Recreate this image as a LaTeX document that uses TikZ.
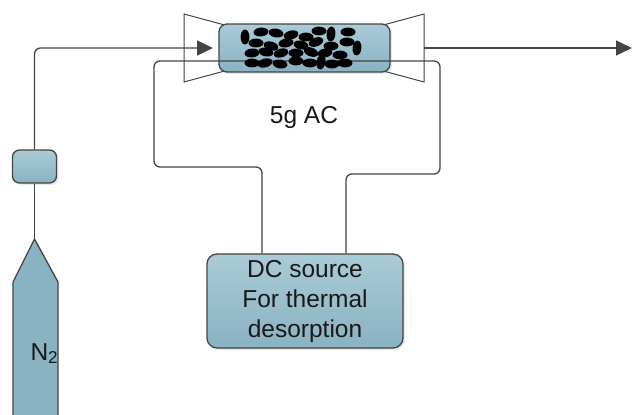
\documentclass[tikz,border=0pt]{standalone}
\usepackage{fontspec}
\setmainfont{Liberation Sans}
\usetikzlibrary{arrows.meta,shadows}

\definecolor{boxblue}{RGB}{137,178,194}
\definecolor{boxlight}{RGB}{170,203,215}
\definecolor{linegray}{RGB}{68,68,68}

\tikzset{
  pipe/.style={draw=linegray, line width=1.3pt},
  flow/.style={pipe, -{Triangle[length=16pt,width=15pt]}},
  unit/.style={draw=linegray, line width=1.3pt, top color=boxlight, bottom color=boxblue,
    rounded corners=#1, inner sep=0pt,
    drop shadow={opacity=0.18, shadow xshift=2pt, shadow yshift=-2pt}},
  unit/.default=8pt,
  cone/.style={draw=linegray, line width=1pt, fill=white},
  pellet/.style={fill=black},
  label/.style={font=\fontsize{24.5}{30}\selectfont, text=black!90},
}

\begin{document}
\begin{tikzpicture}[x=1pt, y=-1pt]
        \useasboundingbox (0,0) rectangle (632,415);

        % Gas cylinder
        \fill[boxblue, draw=linegray, line width=1.3pt]
            (13,420) -- (13,282) -- (34.5,239) -- (58,282) -- (58,420);
        \coordinate (n2top) at (34.5,239);
        \node[label, anchor=base west] (n2) at (27,360) {N\textsubscript{2}};

        % Valve
        \node[unit=7pt, minimum width=44pt, minimum height=33pt] (valve) at (34.5,166.5) {};

        % Reactor end cones
        \draw[cone] (184,14) -- (232,27) -- (232,69) -- (184,82) -- cycle;
        \draw[cone] (424,14) -- (376,27) -- (376,69) -- (424,82) -- cycle;

        % Reactor tube
        \node[unit=8pt, minimum width=171pt, minimum height=48pt] (tube) at (304.5,48) {};
        \node[label, anchor=base] (load) at (304,123) {5g AC};

        % DC source
        \node[unit=10pt, minimum width=196pt, minimum height=94pt, label, align=center]
            (dc) at (305,301) {DC source\\For thermal\\desorption};

        % Gas flow
        \coordinate (inlet) at (213,48);
        \coordinate (outlet) at (424,48);
        \coordinate (exit) at (632,48);
        \draw[pipe] (n2top) -- (valve.south);
        \draw[flow, rounded corners=6pt] (valve.north) |- (inlet);
        \draw[flow] (outlet) -- (exit);

        % Heating wires
        \draw[pipe, rounded corners=6pt] ([xshift=-43pt]dc.north) |- (154,167) |- (440,61)
            |- (346,174) -- ([xshift=41pt]dc.north);

        % Activated carbon pellets
        \foreach \x/\y/\a in {245/37/90, 261/32/5, 276/33/-10, 291/35/15, 306/37/0, 319/31/0,
                              331/34/85, 348/32/0, 256/43/0, 271/46/-15, 286/43/10, 301/45/-10,
                              316/42/20, 331/46/0, 347/42/0, 357/48/85, 252/53/5, 266/52/-10,
                              281/53/15, 296/53/0, 311/52/-20, 325/53/10, 340/55/0, 252/63/0,
                              265/63/15, 280/64/-10, 296/61/0, 310/63/0, 321/62/80, 332/64/0,
                              345/63/0} {
            \fill[pellet, rotate around={\a:(\x,\y)}] (\x,\y) ellipse [x radius=7.5pt, y radius=4.4pt];
        }
    \end{tikzpicture}
\end{document}
